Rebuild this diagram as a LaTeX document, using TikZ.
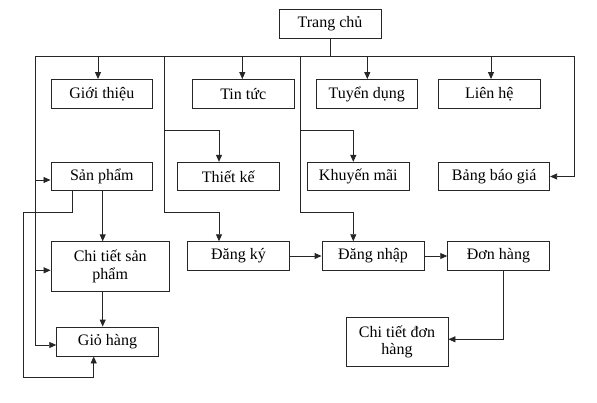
\documentclass[tikz,border=0pt]{standalone}
\usepackage{fontspec}
\setmainfont{Liberation Serif}
\usetikzlibrary{arrows.meta}
\begin{document}
\begin{tikzpicture}[x=1pt,y=-1pt,
  box/.style={draw=black!85,line width=0.9pt,inner sep=0pt,align=center,
    font=\fontsize{16}{17.5}\selectfont,minimum height=29pt},
  tall/.style={box,minimum height=49.5pt},
  conn/.style={draw=black!85,line width=0.9pt},
  arr/.style={conn,-{Triangle[length=7pt,width=6pt]}}]
\useasboundingbox (0,0) rectangle (597,402);
% nodes
\node[box,minimum width=102pt] (tc) at (330,23.5) {Trang chủ};
\node[box,minimum width=101.7pt] (gt) at (101.8,94) {Giới thiệu};
\node[box,minimum width=101.7pt] (tt) at (243.2,94) {Tin tức};
\node[box,minimum width=101.3pt] (td) at (366.7,94) {Tuyển dụng};
\node[box,minimum width=101.3pt] (lh) at (489.3,94) {Liên hệ};
\node[box,minimum width=101.7pt,minimum height=28.4pt] (sp) at (101.8,176.5) {Sản phẩm};
\node[box,minimum width=102pt,minimum height=28.4pt] (tk) at (228.3,176.5) {Thiết kế};
\node[box,minimum width=102pt,minimum height=28.4pt] (km) at (358.3,176.5) {Khuyến mãi};
\node[box,minimum width=111pt,minimum height=28.4pt] (bbg) at (494.2,176.5) {Bảng báo giá};
\node[tall,minimum width=118.3pt] (ctsp) at (110.2,266.5) {Chi tiết sản\\phẩm};
\node[box,minimum width=101.6pt] (gh) at (107.5,341.5) {Giỏ hàng};
\node[box,minimum width=101.6pt,minimum height=28.6pt] (dk) at (238.5,256) {Đăng ký};
\node[box,minimum width=102pt,minimum height=28.6pt] (dn) at (373,256) {Đăng nhập};
\node[box,minimum width=101.6pt,minimum height=28.6pt] (dh) at (498.5,256) {Đơn hàng};
\node[tall,minimum width=102pt,minimum height=49.3pt] (ctdh) at (397,341.7) {Chi tiết đơn\\hàng};
% bus coordinates
\coordinate (busL) at (35.3,56);
\coordinate (busR) at (574.3,56);
\coordinate (jgt) at (98,56);
\coordinate (jtt) at (242.3,56);
\coordinate (jtd) at (367.3,56);
\coordinate (jlh) at (491,56);
\coordinate (vA) at (164.7,56);
\coordinate (vAm) at (164.7,130.7);
\coordinate (vAb) at (164.7,212.7);
\coordinate (vB) at (300.3,56);
\coordinate (vBm) at (300.3,130.7);
\coordinate (vBb) at (300.3,212.7);
\coordinate (tkx) at (219,130.7);
\coordinate (dkx) at (219,212.7);
\coordinate (kmx) at (353.3,130.7);
\coordinate (dnx) at (353.3,212.7);
\coordinate (lp1) at (23.3,212);
\coordinate (lp2) at (23.3,377.3);
% connectors
\draw[conn] (tc.south) -- (tc.south |- busL);
\draw[conn] (busL) -- (busR);
\draw[arr] (jgt) -- (jgt |- gt.north);
\draw[arr] (jtt) -- (jtt |- tt.north);
\draw[arr] (jtd) -- (jtd |- td.north);
\draw[arr] (jlh) -- (jlh |- lh.north);
\draw[arr] (busR) |- (bbg.east);
\draw[arr] (busL) |- ([yshift=-3.5pt]sp.west);
\draw[arr] (busL) |- ([yshift=-3.8pt]ctsp.west);
\draw[arr] (busL) |- ([yshift=-3.5pt]gh.west);
\draw[conn] (vA) -- (vAb);
\draw[arr] (vAm) -- (tkx) -- (tkx |- tk.north);
\draw[arr] (vAb) -- (dkx) -- (dkx |- dk.north);
\draw[conn] (vB) -- (vBb);
\draw[arr] (vBm) -- (kmx) -- (kmx |- km.north);
\draw[arr] (vBb) -- (dnx) -- (dnx |- dn.north);
\draw[arr] ([xshift=0.9pt]sp.south) -- ([xshift=0.9pt]sp.south |- ctsp.north);
\draw[arr] ([xshift=0.9pt]sp.south |- ctsp.south) -- ([xshift=0.9pt]sp.south |- gh.north);
\draw[arr] ([xshift=-29.5pt]sp.south) |- (lp1) -- (lp2) -| ([xshift=-13.8pt]gh.south);
\draw[arr] (dk.east) -- (dn.west);
\draw[arr] (dn.east) -- (dh.west);
\draw[arr] ([xshift=4.8pt]dh.south) |- ([yshift=2.4pt]ctdh.east);
\end{tikzpicture}
\end{document}
